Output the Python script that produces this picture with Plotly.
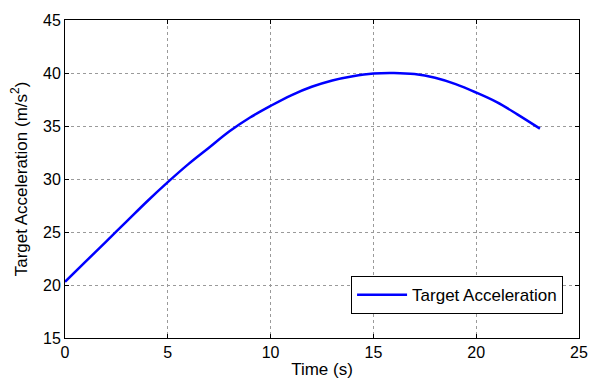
import plotly.graph_objects as go

time_s = [0, 1, 2, 3, 4, 5, 6, 7, 8, 9, 10, 11, 12, 13, 14, 15, 16, 17, 18, 19, 20, 21, 22, 23.1]
accel = [20.3, 22.2, 24.1, 26.0, 27.9, 29.7, 31.4, 32.95, 34.5, 35.8, 36.9, 37.9, 38.7, 39.3, 39.7,
         39.95, 40.0, 39.9, 39.55, 38.95, 38.15, 37.25, 36.1, 34.75]

x_ticks = [0, 5, 10, 15, 20, 25]
y_ticks = [15, 20, 25, 30, 35, 40, 45]

FONT = "Liberation Sans, Arial, sans-serif"

fig = go.Figure()
fig.add_trace(go.Scatter(x=time_s, y=accel, mode="lines", name="Target Acceleration",
                         line=dict(color="#0000ff", width=2.5), line_shape="spline"))

axis_common = dict(
    showline=True, linecolor="black", linewidth=1, mirror="ticks",
    ticks="inside", ticklen=4, tickcolor="black",
    showgrid=True, gridcolor="#9a9a9a", griddash="dot", gridwidth=1,
    zeroline=False, tickfont=dict(family=FONT, size=16, color="black"),
)

fig.update_layout(
    width=600, height=387,
    margin=dict(l=65, r=15, t=16, b=47),
    paper_bgcolor="white", plot_bgcolor="white",
    font=dict(family=FONT, size=16, color="black"),
    xaxis=dict(range=[0, 25], tickvals=x_ticks,
               title=dict(text="Time (s)", font=dict(family=FONT, size=17), standoff=2),
               **axis_common),
    yaxis=dict(range=[15, 45], tickvals=y_ticks,
               title=dict(text="Target Acceleration (m/s<sup>2</sup>)", font=dict(family=FONT, size=17), standoff=11),
               **axis_common),
    legend=dict(x=0.969, y=0.075, xanchor="right", yanchor="bottom",
                bordercolor="black", borderwidth=1, bgcolor="white",
                itemwidth=50,
                font=dict(family=FONT, size=17)),
    showlegend=True,
)

fig.write_html("out.html")
